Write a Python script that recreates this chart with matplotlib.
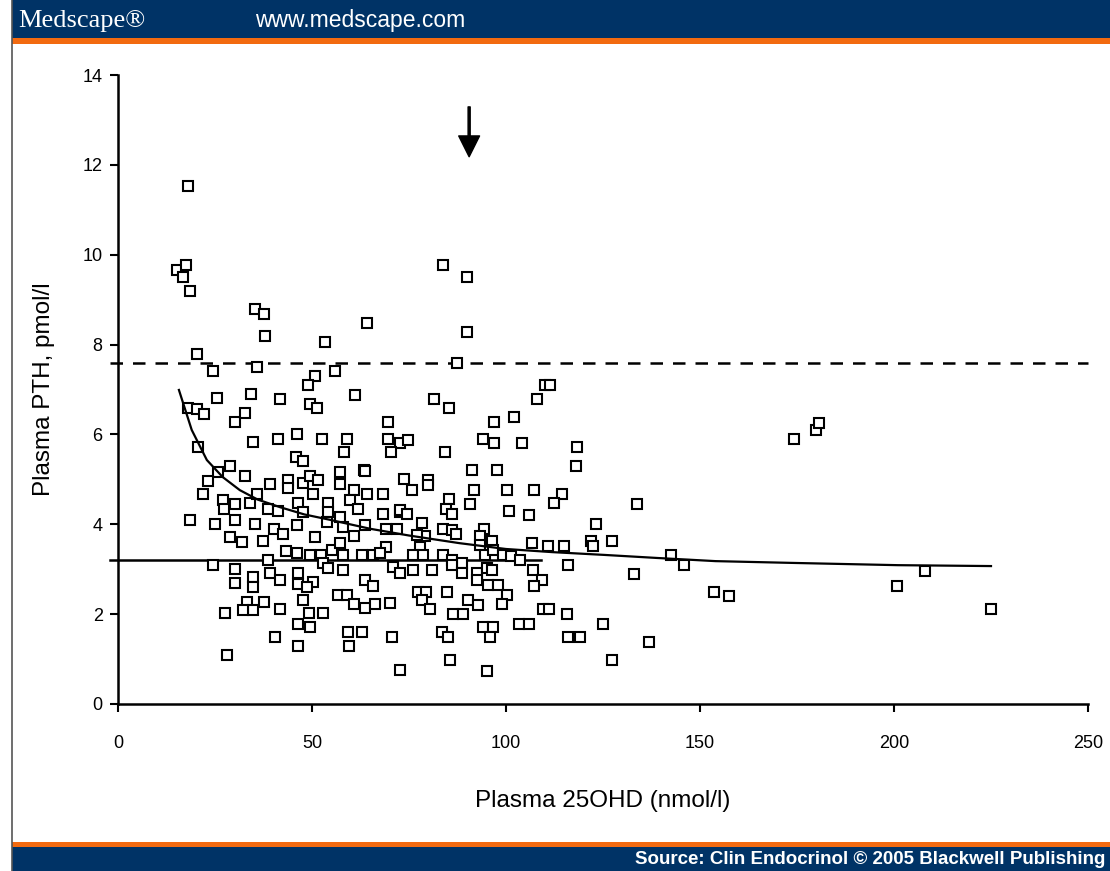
import matplotlib.pyplot as plt
from matplotlib.patches import Rectangle

# plasma 25OHD (nmol/l) and PTH (pmol/l) for each subject
ohd = [15.1, 17.5, 16.8, 18.6, 18.0, 20.4, 24.4, 35.3, 37.5, 37.9, 35.9, 25.6, 34.2, 41.8, 18.0, 20.4,
       22.2, 30.2, 32.7, 53.4, 64.3, 55.9, 50.9, 48.9, 49.5, 51.2, 61.1, 20.5, 34.9, 41.2, 46.2, 52.7,
       59.1, 58.3, 69.5, 69.5, 72.7, 74.7, 70.3, 45.8, 47.6, 63.5, 73.7,
       28.9, 25.7, 32.7, 23.1, 39.2, 43.7, 43.7, 47.8, 49.5, 51.6, 57.2, 57.2, 63.7, 22.0, 27.1, 27.4,
       30.2, 34.0, 35.7, 38.6, 41.3, 50.2, 46.5, 54.2, 60.7, 64.1, 68.4, 59.8, 61.9, 54.2, 47.8, 57.2,
       68.4, 72.7, 18.6, 25.0, 30.2, 35.3, 40.3, 42.6, 46.1, 53.8, 58.1, 63.7, 69.2, 71.8, 28.9, 32.0,
       37.3, 50.8, 43.3, 46.1, 49.5, 52.3, 55.1, 58.1, 62.8, 65.8, 69.2, 67.5, 57.2, 60.7, 38.7, 24.6,
       30.2, 30.2, 34.9, 34.9, 39.2, 41.8, 46.5, 46.5, 50.3, 48.6, 52.9, 54.2, 58.1, 63.7, 65.8, 70.9,
       72.7, 33.2, 34.9, 37.5, 32.3, 27.6, 41.8, 47.8, 49.1, 52.9, 46.5, 49.5, 56.8, 58.9, 60.7, 63.7,
       66.2, 70.1, 40.5, 46.3, 59.2, 63.0, 59.6, 70.5, 28.2, 72.7,
       83.7, 90.0, 90.0, 87.4, 110.1, 111.3, 108.1, 81.5, 85.4, 102.1, 97.0, 94.0, 97.0, 104.2, 118.2,
       118.0, 84.3, 91.3, 97.6, 79.8,
       75.9, 79.8, 91.8, 100.2, 107.2, 114.5, 112.4, 133.7, 85.4, 90.7, 84.5, 86.0, 100.9, 106.0, 72.7,
       74.4, 78.3, 83.8, 86.0, 87.1, 94.4, 93.3, 96.5, 93.3, 79.1, 77.0, 77.8, 106.6, 110.7, 115.0,
       122.0, 122.5, 127.4, 123.2, 83.8, 86.0, 88.6, 94.6, 96.7, 99.3, 101.4, 103.6, 76.1, 78.7, 76.1,
       80.8, 86.0, 88.6, 92.4, 95.0, 96.3, 92.4, 95.3, 98.0, 100.2, 98.9, 106.9, 109.2, 107.2, 116.0,
       133.0, 77.4, 79.5, 84.7, 78.3, 80.4, 90.3, 92.9, 86.4, 89.0, 109.6, 111.1, 115.6, 103.4, 105.8,
       125.1, 116.0, 119.1, 83.4, 85.1, 94.2, 96.7, 95.9, 85.6, 95.2, 127.2,
       174.3, 179.9, 180.7, 142.5, 146.0, 153.6, 157.5, 200.7, 208.1, 225.0, 136.9]
pth = [9.66, 9.77, 9.51, 9.2, 11.53, 7.8, 7.41, 8.79, 8.68, 8.18, 7.5, 6.8, 6.89, 6.79, 6.58, 6.57,
       6.46, 6.27, 6.47, 8.06, 8.47, 7.41, 7.3, 7.09, 6.68, 6.58, 6.88, 5.71, 5.84, 5.9, 6.02, 5.9,
       5.9, 5.62, 6.27, 5.9, 5.82, 5.87, 5.62, 5.49, 5.41, 5.21, 5.0,
       5.3, 5.17, 5.08, 4.97, 4.89, 4.99, 4.8, 4.91, 5.08, 4.99, 5.17, 4.89, 5.19, 4.68, 4.54, 4.35,
       4.45, 4.47, 4.68, 4.35, 4.3, 4.68, 4.47, 4.47, 4.76, 4.68, 4.68, 4.54, 4.35, 4.28, 4.28, 4.17,
       4.24, 4.28, 4.1, 4.0, 4.1, 4.0, 3.9, 3.79, 3.98, 4.06, 3.95, 3.98, 3.9, 3.9, 3.71, 3.6,
       3.62, 3.71, 3.41, 3.35, 3.32, 3.32, 3.43, 3.32, 3.32, 3.32, 3.5, 3.35, 3.58, 3.73, 3.2, 3.09,
       3.0, 2.7, 2.83, 2.61, 2.91, 2.76, 2.91, 2.68, 2.72, 2.61, 3.13, 3.02, 2.98, 2.76, 2.63, 3.06,
       2.91, 2.28, 2.09, 2.28, 2.09, 2.02, 2.11, 2.31, 2.02, 2.02, 1.79, 1.72, 2.43, 2.43, 2.22, 2.13,
       2.22, 2.24, 1.5, 1.3, 1.6, 1.6, 1.3, 1.5, 1.09, 0.76,
       9.76, 9.51, 8.27, 7.58, 7.09, 7.09, 6.79, 6.79, 6.58, 6.38, 6.27, 5.9, 5.82, 5.82, 5.71,
       5.29, 5.62, 5.2, 5.2, 4.99,
       4.76, 4.87, 4.77, 4.77, 4.77, 4.68, 4.47, 4.45, 4.56, 4.45, 4.34, 4.24, 4.3, 4.21, 4.32,
       4.24, 4.02, 3.9, 3.88, 3.79, 3.89, 3.73, 3.62, 3.54, 3.73, 3.76, 3.5, 3.59, 3.52, 3.52,
       3.62, 3.52, 3.62, 4.0, 3.32, 3.2, 3.13, 3.32, 3.43, 3.32, 3.29, 3.2, 3.32, 3.32, 2.98,
       2.98, 3.09, 2.91, 2.91, 3.02, 2.98, 2.76, 2.64, 2.64, 2.43, 2.22, 2.98, 2.77, 2.63, 3.09,
       2.89, 2.5, 2.5, 2.5, 2.31, 2.11, 2.31, 2.2, 2.0, 2.0, 2.11, 2.11, 2.0, 1.79, 1.79,
       1.79, 1.5, 1.5, 1.61, 1.5, 1.72, 1.72, 1.5, 0.98, 0.74, 0.98,
       5.9, 6.1, 6.26, 3.32, 3.09, 2.5, 2.41, 2.63, 2.97, 2.11, 1.37]

# smoothed fit through the data
fit_x = [15.7, 19, 22.9, 27, 31.4, 36, 41.8, 48, 54.6, 65, 75, 88, 100, 112, 125, 139, 154, 174, 201, 225]
fit_y = [6.99, 6.1, 5.43, 5.05, 4.76, 4.55, 4.38, 4.22, 4.1, 3.9, 3.75, 3.58, 3.45, 3.38, 3.32, 3.25, 3.18, 3.14, 3.09, 3.07]

upper_ref = 7.6      # dashed line
lower_ref = 3.2      # solid line
lower_ref_end = 109
arrow_x = 90.5

W, H = 1110, 871
fig = plt.figure(figsize=(W / 100, H / 100), dpi=100)
plt.rcParams['font.family'] = ['Liberation Sans', 'DejaVu Sans']

def px_rect(x0, y0, x1, y1, color):
    # rectangle in image pixel coords (y from top)
    fig.add_artist(Rectangle((x0 / W, 1 - y1 / H), (x1 - x0) / W, (y1 - y0) / H,
                             transform=fig.transFigure, color=color, lw=0))

# header and footer bars
navy = '#003366'
px_rect(12, 0, W, 38, navy)
px_rect(12, 38, W, 44, '#f26a10')
px_rect(12, 842, W, 847, '#f26a10')
px_rect(12, 847, W, H, navy)
fig.add_artist(plt.Line2D([12 / W, 12 / W], [0, 1], transform=fig.transFigure, color='#555555', lw=1.2))

fig.text(18 / W, 1 - 21 / H, 'Medscape®', color='white', fontsize=19, family='Liberation Serif',
         va='center', ha='left')
fig.text(255 / W, 1 - 21 / H, 'www.medscape.com', color='white', fontsize=16.5, va='center', ha='left')
fig.text(1105 / W, 1 - 859 / H, 'Source: Clin Endocrinol © 2005 Blackwell Publishing', color='white',
         fontsize=13.5, fontweight='bold', va='center', ha='right')

ax = fig.add_axes([118 / W, 1 - 704 / H, (1088 - 118) / W, (704 - 75) / H])

ax.plot(ohd, pth, linestyle='none', marker='s', markersize=7.5, markerfacecolor='white',
        markeredgecolor='black', markeredgewidth=1.5, zorder=3)
ax.plot(fit_x, fit_y, color='black', lw=1.6, zorder=4)
ax.plot([-2, 250], [upper_ref, upper_ref], color='black', lw=1.8, dashes=(5, 4), clip_on=False)
ax.plot([-2, lower_ref_end], [lower_ref, lower_ref], color='black', lw=1.8, clip_on=False)

# arrow marking the threshold
ax.annotate('', xy=(arrow_x, 12.18), xytext=(arrow_x, 13.29),
            arrowprops=dict(facecolor='black', edgecolor='black', width=1.5, headwidth=15, headlength=15, shrink=0))

ax.set_xlim(0, 250)
ax.set_ylim(0, 14)
ax.set_xticks(range(0, 251, 50))
ax.set_yticks(range(0, 15, 2))
for side in ['top', 'right']:
    ax.spines[side].set_visible(False)
for side in ['left', 'bottom']:
    ax.spines[side].set_linewidth(1.8)
ax.tick_params(axis='both', length=6, width=1.5, labelsize=13, colors='black')
ax.tick_params(axis='x', pad=16)
ax.tick_params(axis='y', pad=5)
ax.set_xlabel('Plasma 25OHD (nmol/l)', fontsize=17.5, labelpad=28)
ax.set_ylabel('Plasma PTH, pmol/l', fontsize=17.5, labelpad=20)

fig.savefig('out.png', dpi=100)
